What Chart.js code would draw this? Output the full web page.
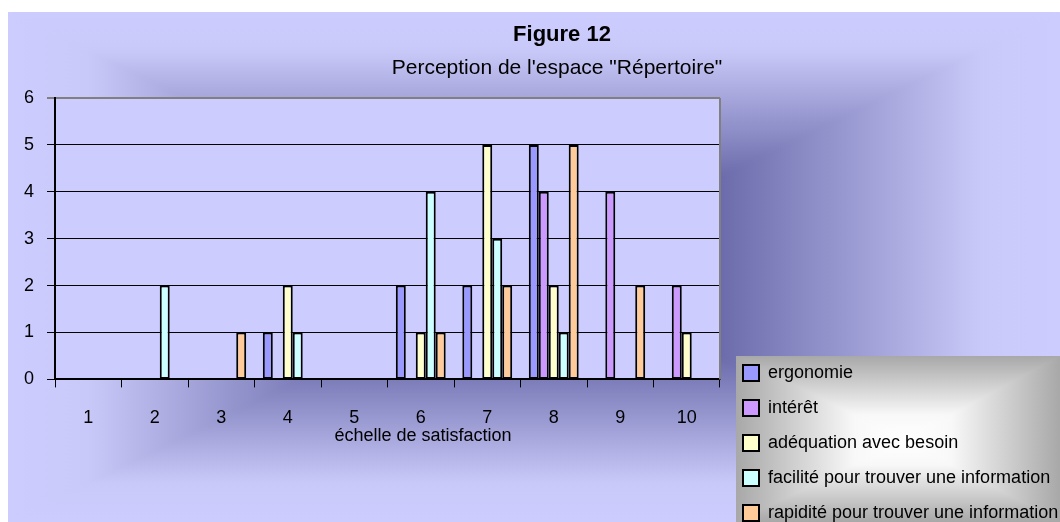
<!DOCTYPE html>
<html>
<head>
<meta charset="utf-8">
<title>Figure 12</title>
<script src="https://cdn.jsdelivr.net/npm/chart.js@4/dist/chart.umd.min.js"></script>
<style>
    body { margin:0; background:#fff; overflow:hidden; }
    canvas { display:block; }
</style>
</head>
<body>
<canvas id="fig12" width="1060" height="522"></canvas>
<script>
const categories = ["1", "2", "3", "4", "5", "6", "7", "8", "9", "10"];
const ergonomie  = [0, 0, 0, 1, 0, 2, 2, 5, 0, 0];
const interet    = [0, 0, 0, 0, 0, 0, 0, 4, 4, 2];
const adequation = [0, 0, 0, 2, 0, 1, 5, 2, 0, 1];
const facilite   = [0, 2, 0, 1, 0, 4, 3, 1, 0, 0];
const rapidite   = [0, 0, 1, 0, 0, 1, 2, 5, 2, 0];
const yTicks = [0, 1, 2, 3, 4, 5, 6];

const FONT = "'Liberation Sans', Arial, sans-serif";
Chart.defaults.font.family = FONT;
Chart.defaults.color = "#000";

// rectangular "from centre" gradient, like the old office fills
function boxGradient(ctx, x0, y0, x1, y1, cx, cy, stops) {
    const sides = [
        [[x0, y0], [x1, y0], [cx, y0]],
        [[x1, y0], [x1, y1], [x1, cy]],
        [[x1, y1], [x0, y1], [cx, y1]],
        [[x0, y1], [x0, y0], [x0, cy]]
    ];
    sides.forEach(function(s) {
        const g = ctx.createLinearGradient(cx, cy, s[2][0], s[2][1]);
        stops.forEach(function(st) { g.addColorStop(st[0], st[1]); });
        ctx.beginPath();
        ctx.moveTo(cx, cy);
        ctx.lineTo(s[0][0], s[0][1]);
        ctx.lineTo(s[1][0], s[1][1]);
        ctx.closePath();
        ctx.fillStyle = g;
        ctx.strokeStyle = g;
        ctx.lineWidth = 1;
        ctx.fill();
        ctx.stroke();
    });
}

const decor = {
    id: "decor",
    afterLayout(chart) {
        const lg = chart.legend;
        const pad = lg.options.labels.padding;
        lg.left = 743 - pad;
        lg.right = 1060;
        lg.width = lg.right - lg.left;
        lg.top = 364 - pad;
        lg.bottom = 640;
        lg.height = lg.bottom - lg.top;
    },
    beforeDraw(chart) {
        const ctx = chart.ctx;
        const a = chart.chartArea;
        ctx.save();
        ctx.fillStyle = "#fff";
        ctx.fillRect(0, 0, chart.width, chart.height);
        ctx.beginPath();
        ctx.rect(8, 12, 1052, 510);
        ctx.clip();
        boxGradient(ctx, 8, 12, 1060, 522, 534, 267, [
            [0, "#5c5c9e"], [0.35, "#6b6bab"], [0.85, "#c9c9f9"], [1, "#ccccff"]
        ]);
        ctx.restore();

        ctx.save();
        ctx.fillStyle = "#ccccff";
        ctx.fillRect(a.left, a.top, a.right - a.left, a.bottom - a.top);
        ctx.beginPath();
        ctx.rect(736, 356, 324, 166);
        ctx.clip();
        boxGradient(ctx, 736, 356, 1060, 522, 905, 440, [
            [0, "#ffffff"], [0.3, "#f8f8f8"], [1, "#a8a8a8"]
        ]);
        ctx.restore();
    },
    afterDatasetsDraw(chart) {
        const ctx = chart.ctx;
        const a = chart.chartArea;
        ctx.save();
        ctx.strokeStyle = "#808080";
        ctx.lineWidth = 2;
        ctx.beginPath();
        ctx.moveTo(a.right, a.top);
        ctx.lineTo(a.right, a.bottom);
        ctx.stroke();
        ctx.restore();
    },
    afterDraw(chart) {
        const ctx = chart.ctx;
        ctx.save();
        ctx.fillStyle = "#000";
        ctx.textAlign = "center";
        ctx.textBaseline = "middle";
        ctx.font = "bold 22px " + FONT;
        ctx.fillText("Figure 12", 562, 35);
        ctx.font = "21px " + FONT;
        ctx.fillText("Perception de l'espace \"Répertoire\"", 557, 68);
        ctx.font = "18px " + FONT;
        ctx.fillText("échelle de satisfaction", 423, 436);
        ctx.restore();
    }
};

function bars(label, data, color) {
    return {
        label: label,
        data: data,
        backgroundColor: color,
        borderColor: "#000",
        borderWidth: 2,
        borderSkipped: false,
        categoryPercentage: 0.75,
        barPercentage: 1.0
    };
}

let fig = new Chart(document.getElementById("fig12"), {
    type: "bar",
    plugins: [decor],
    data: {
        labels: categories,
        datasets: [
            bars("ergonomie", ergonomie, "#9999ff"),
            bars("intérêt", interet, "#cc99ff"),
            bars("adéquation avec besoin", adequation, "#ffffcc"),
            bars("facilité pour trouver une information", facilite, "#ccffff"),
            bars("rapidité pour trouver une information", rapidite, "#ffcc99")
        ]
    },
    options: {
        responsive: false,
        animation: false,
        events: [],
        layout: { padding: { left: 11, top: 98, right: 340, bottom: 73 } },
        plugins: {
            title: { display: false },
            tooltip: { enabled: false },
            legend: {
                position: "chartArea",
                align: "start",
                labels: {
                    font: { size: 18 },
                    boxWidth: 16,
                    boxHeight: 16,
                    padding: 17,
                    color: "#000"
                }
            }
        },
        scales: {
            x: {
                grid: {
                    offset: true,
                    drawOnChartArea: false,
                    tickLength: 8,
                    color: "#000"
                },
                border: { color: "#000", width: 2 },
                ticks: { font: { size: 18 }, padding: 20, maxRotation: 0 }
            },
            y: {
                min: 0,
                max: 6,
                afterBuildTicks: function(axis) {
                    axis.ticks = yTicks.map(function(v) { return { value: v }; });
                },
                grid: {
                    color: function(c) { return c.tick && c.tick.value === 6 ? "#808080" : "#000"; },
                    lineWidth: function(c) { return c.tick && c.tick.value === 6 ? 2 : 1; },
                    tickLength: 8
                },
                border: { color: "#000", width: 2 },
                ticks: { font: { size: 18 }, padding: 13 }
            }
        }
    }
});
</script>
</body>
</html>
